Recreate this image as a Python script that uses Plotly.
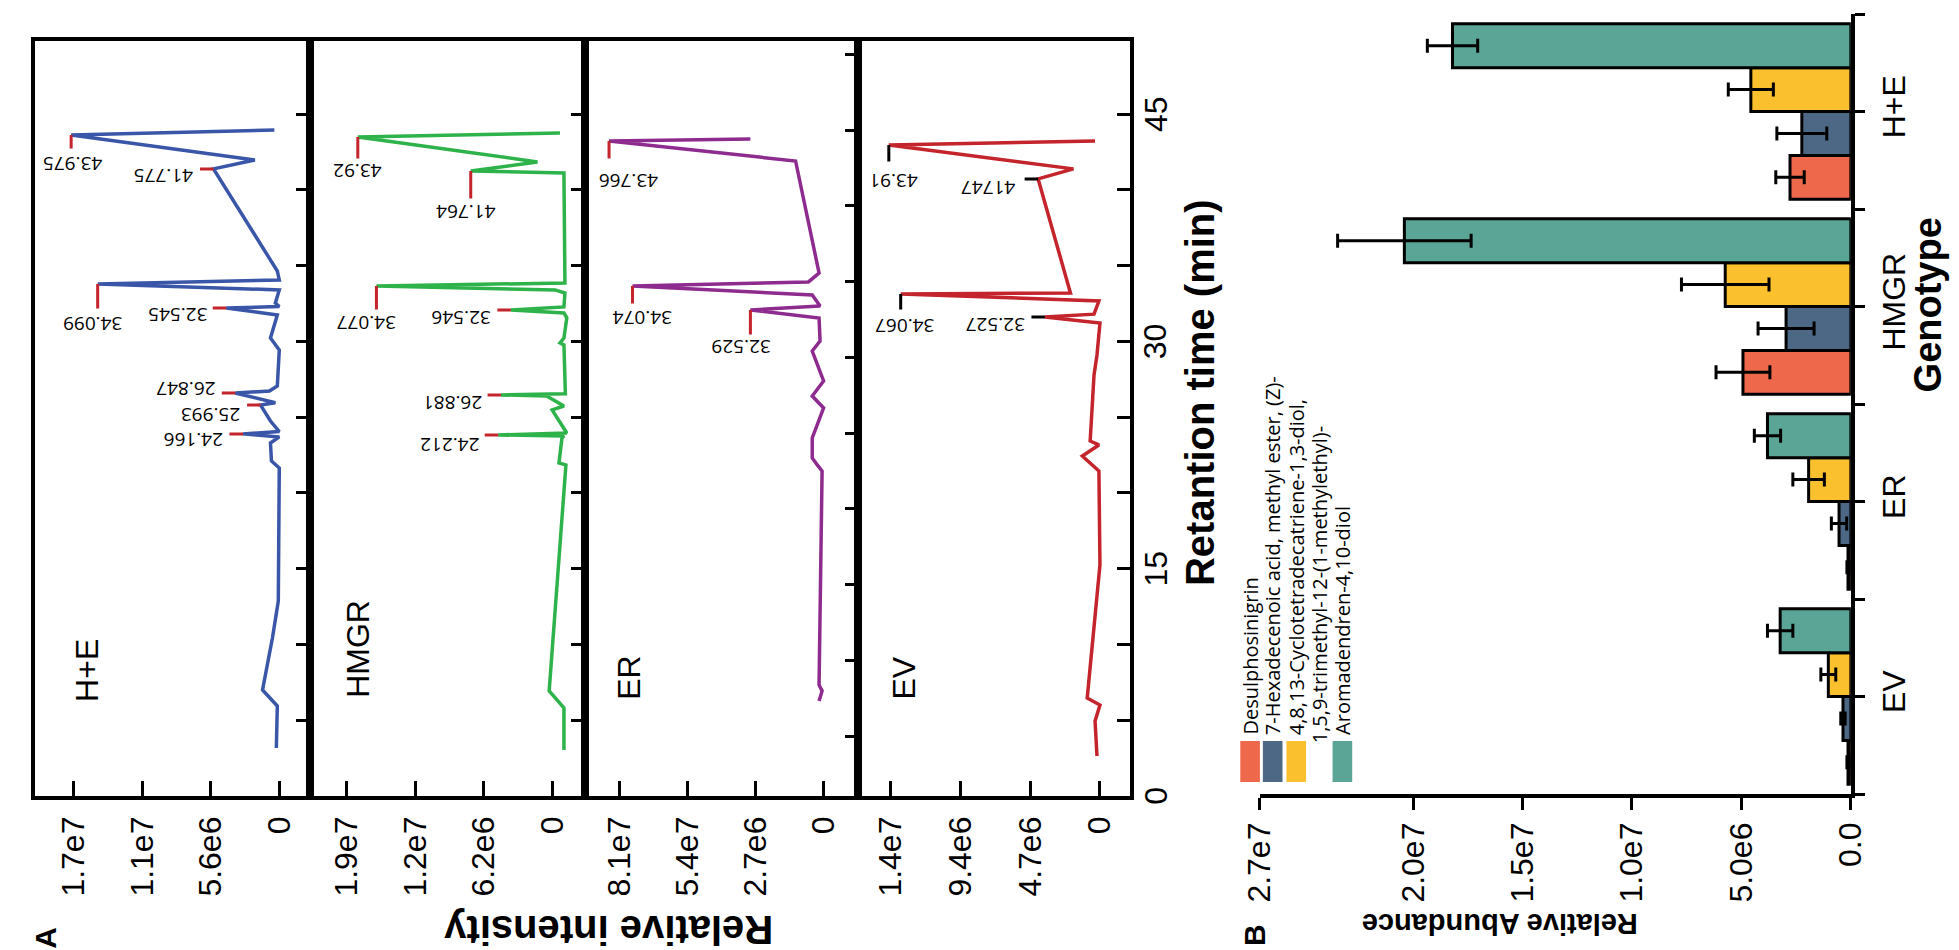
import plotly.graph_objects as go

W, H = 1959, 950

# ---------------- panel A: GC traces (time in min, intensity in 1e6) ----------------
HE_TIME = [3.17, 4.82, 5.94, 7.0, 10.43, 12.87, 21.65, 22.11, 23.3, 23.7, 23.9, 24.05,
           24.75, 25.8, 25.95, 26.6, 26.73, 27.06, 29.44, 30.23, 31.75, 32.2, 32.3, 32.54,
           33.4, 33.8, 34.06, 34.65, 41.39, 41.98, 43.63, 43.96]
HE_INT = [0.24, 0.16, 0.16, 1.37, 0.56, 0.08, 0.0, 0.64, 0.72, 0.0, 2.97, 0.0,
          0.72, 1.53, 0.32, 3.6, 0.8, 0.16, 0.0, 0.72, 0.16, 4.34, 0.0, 0.32,
          0.0, 14.86, 0.0, 0.16, 5.38, 2.0, 17.03, 0.4]

HMGR_TIME = [3.04, 5.81, 6.93, 19.67, 21.85, 21.98, 23.63, 23.76, 23.83, 23.96, 25.48,
             25.74, 26.4, 26.47, 26.55, 29.77, 29.9, 30.23, 31.55, 31.88, 32.08, 32.28,
             33.2, 33.4, 33.66, 33.86, 41.12, 41.25, 41.85, 43.5, 43.76]
HMGR_INT = [-1.07, -1.07, 0.27, -1.07, -1.25, -0.62, -0.89, -1.07, 4.89, -1.33, 0.0,
            -1.07, 0.5, 4.63, -1.2, -1.07, -0.71, -1.07, -1.33, -1.07, 3.74, -1.07,
            -1.16, -0.27, 15.93, -1.16, -1.07, 7.38, 1.33, 17.62, -0.71]

ER_TIME = [7.32, 7.98, 8.38, 22.5, 22.9, 23.36, 24.68, 26.66, 27.45, 28.44, 30.42,
           31.08, 32.6, 33.13, 33.39, 34.12, 34.71, 34.98, 35.57, 42.96, 44.28, 44.42]
ER_INT = [0.18, 0.06, 0.18, 0.06, 0.25, 0.45, 0.45, 0.0, 0.45, 0.0, 0.45,
          0.14, 0.18, 2.9, 0.14, 0.45, 7.57, 0.6, 0.18, 1.11, 8.5, 2.9]

EV_TIME = [2.64, 4.95, 6.0, 6.47, 15.25, 21.45, 22.44, 23.17, 23.43, 27.79, 29.11,
           31.22, 31.62, 31.8, 32.67, 33.14, 33.2, 40.73, 41.39, 42.97, 43.23]
EV_INT = [0.2, 0.33, 0.0, 0.86, 0.0, 0.07, 1.19, 0.07, 0.66, 0.4, 0.2,
          0.0, 3.71, 0.4, 0.07, 13.44, 1.99, 4.17, 1.79, 14.24, 0.33]

# peak labels: (text, index of the peak point in the trace)
HE_PEAKS = [("24.166", 10), ("25.993", 13), ("26.847", 15), ("32.545", 21),
            ("34.099", 25), ("41.775", 28), ("43.975", 30)]
HMGR_PEAKS = [("24.212", 8), ("26.881", 13), ("32.546", 20), ("34.077", 24),
              ("41.764", 27), ("43.92", 29)]
ER_PEAKS = [("32.529", 13), ("34.074", 16), ("43.766", 20)]
EV_PEAKS = [("32.527", 12), ("34.067", 15), ("41747", 17), ("43.91", 19)]

GENOTYPES_A = ["H+E", "HMGR", "ER", "EV"]
HE_TICKVALS, HE_TICKTEXT = [0, 5.6, 11.2, 16.8], ["0", "5.6e6", "1.1e7", "1.7e7"]
HMGR_TICKVALS, HMGR_TICKTEXT = [0, 6.2, 12.4, 18.6], ["0", "6.2e6", "1.2e7", "1.9e7"]
ER_TICKVALS, ER_TICKTEXT = [0, 2.7, 5.4, 8.1], ["0", "2.7e6", "5.4e7", "8.1e7"]
EV_TICKVALS, EV_TICKTEXT = [0, 4.7, 9.4, 14.1], ["0", "4.7e6", "9.4e6", "1.4e7"]
TIME_TICKVALS = [0, 5, 10, 15, 20, 25, 30, 35, 40, 45]
TIME_LABELS = [0, 15, 30, 45]

# ---------------- panel B: bars (relative abundance, 1e6) ----------------
GENOTYPES_B = ["EV", "ER", "HMGR", "H+E"]
COMPOUND_LINES = [["Desulphosinigrin"],
                  ["7-Hexadecenoic acid, methyl ester, (Z)-"],
                  ["4,8,13-Cyclotetradecatriene-1,3-diol,", "1,5,9-trimethyl-12-(1-methylethyl)-"],
                  ["Aromadendren-4,10-diol"]]
DESUL = [0.13, 0.13, 4.93, 2.78]
DESUL_ERR = [0.05, 0.05, 1.23, 0.65]
HEXA = [0.36, 0.54, 2.96, 2.24]
HEXA_ERR = [0.1, 0.35, 1.28, 1.14]
CYCLO = [1.03, 1.93, 5.74, 4.57]
CYCLO_ERR = [0.34, 0.72, 2.0, 1.03]
AROMA = [3.23, 3.81, 20.4, 18.2]
AROMA_ERR = [0.58, 0.6, 3.05, 1.15]
ABUND_TICKVALS = [0, 5, 10, 15, 20, 27]
ABUND_TICKTEXT = ["0.0", "5.0e6", "1.0e7", "1.5e7", "2.0e7", "2.7e7"]

AX_FONT = "Liberation Sans, Arial, sans-serif"
LBL_FONT = "Open Sans, sans-serif"
BAR_COLORS = ["#EE684C", "#4D6885", "#FBC02D", "#5AA596"]


def px(x):
    return x / W


def py(y):
    return 1 - y / H


fig = go.Figure()

strips = [
    (HE_TIME, HE_INT, HE_PEAKS, "#3A56A8", "#C4242B", HE_TICKVALS, HE_TICKTEXT, (8, 288), [20.0, -2.49], 0.0),
    (HMGR_TIME, HMGR_INT, HMGR_PEAKS, "#2DB34A", "#C4242B", HMGR_TICKVALS, HMGR_TICKTEXT, (288, 568), [21.98, -2.94], 0.0),
    (ER_TIME, ER_INT, ER_PEAKS, "#8E2B8E", "#C4242B", ER_TICKVALS, ER_TICKTEXT, (568, 847), [9.47, -1.38], 1.05),
    (EV_TIME, EV_INT, EV_PEAKS, "#C4242B", "black", EV_TICKVALS, EV_TICKTEXT, (847, 1124), [16.29, -2.05], 0.0),
]
# peak label styling: (stub direction, stub length px, text dx, text dy) ; dy is downward
label_style = [
    [("h", 15, -50, 6), ("h", 15, -50, 10), ("h", 15, -49, -4), ("h", 15, -48, 7),
     ("v", 26, -5, 40), ("h", 15, -50, 7), ("v", 15, 2, 29)],
    [("h", 15, -48, 10), ("h", 15, -48, 8), ("h", 15, -50, 8), ("v", 25, -10, 37),
     ("v", 29, -5, 41), ("v", 23, 0, 34)],
    [("v", 26, -9, 37), ("v", 19, 10, 32), ("v", 19, 20, 40)],
    [("h", 15, -50, 8), ("v", 17, 4, 32), ("h", 15, -50, 9), ("v", 18, 5, 36)],
]
label_pos = [(61, 662), (337, 641), (613, 670), (893, 670)]

annotations = []
for i, (t, inten, peaks, col, stub, tv, tt, (x0, x1), xr, t0) in enumerate(strips):
    n = i + 1
    xa, ya = f"x{n}", f"y{n}"
    fig.add_trace(go.Scatter(x=inten, y=t, mode="lines", line=dict(color=col, width=3.5),
                             xaxis=xa, yaxis=ya, showlegend=False, hoverinfo="skip"))
    fig.layout[f"xaxis{n}"] = dict(
        domain=[px(x0), px(x1)], range=xr, anchor=ya, tickmode="array", tickvals=tv, ticktext=tt,
        ticks="inside", ticklen=15, tickwidth=3, tickcolor="black", tickangle=-90,
        tickfont=dict(size=32, family=AX_FONT, color="black"), ticklabelstandoff=4,
        showline=True, linewidth=3.5, linecolor="black", mirror=True, showgrid=False, zeroline=False)
    fig.layout[f"yaxis{n}"] = dict(
        domain=[py(788), py(33)], range=[t0, t0 + 49.83], anchor=xa, side="right",
        ticks="inside", ticklen=14, tickwidth=3, tickcolor="black", tickmode="array",
        tickvals=TIME_TICKVALS + [50], showticklabels=False,
        showline=True, linewidth=3.5, linecolor="black", mirror=True, showgrid=False, zeroline=False)
    for (txt, k), (kind, ln, dx, dy) in zip(peaks, label_style[i]):
        # stub line from the peak
        annotations.append(dict(x=inten[k], y=t[k], xref=xa, yref=ya, text="", showarrow=True,
                                arrowhead=0, arrowwidth=3, arrowcolor=stub,
                                ax=0 if kind == "v" else -ln, ay=ln if kind == "v" else 0))
        annotations.append(dict(x=inten[k], y=t[k], xref=xa, yref=ya, text=txt, textangle=180,
                                showarrow=False, xshift=dx, yshift=-dy,
                                font=dict(size=19, family=LBL_FONT, color="black")))
    lx, ly = label_pos[i]
    annotations.append(dict(x=px(lx), y=py(ly), xref="paper", yref="paper", text=GENOTYPES_A[i],
                            textangle=-90, showarrow=False, xanchor="center", yanchor="middle",
                            font=dict(size=32, family=AX_FONT, color="black")))

# retention-time tick labels on the right of the EV strip
for v in TIME_LABELS:
    annotations.append(dict(x=px(1150), y=v, xref="paper", yref="y4", text=str(v), textangle=-90,
                            showarrow=False, xanchor="center", yanchor="middle",
                            font=dict(size=32, family=AX_FONT, color="black")))

# panel B bars
series = [(DESUL, DESUL_ERR), (HEXA, HEXA_ERR), (CYCLO, CYCLO_ERR), (AROMA, AROMA_ERR)]
for (vals, errs), col, lines in zip(series, BAR_COLORS, COMPOUND_LINES):
    fig.add_trace(go.Bar(y=GENOTYPES_B, x=vals, orientation="h", xaxis="x5", yaxis="y5",
                         name=" ".join(lines), showlegend=False,
                         marker=dict(color=col, line=dict(color="black", width=3)),
                         error_x=dict(type="data", array=errs, color="black", thickness=3, width=7)))

fig.layout["xaxis5"] = dict(
    domain=[px(1256), px(1858)], range=[27, 0], anchor="y5", tickmode="array",
    tickvals=ABUND_TICKVALS, ticktext=ABUND_TICKTEXT, ticks="outside", ticklen=12, tickwidth=3,
    tickcolor="black", tickangle=-90, tickfont=dict(size=32, family=AX_FONT, color="black"),
    ticklabelstandoff=0, showline=True, linewidth=3.5, linecolor="black", showgrid=False, zeroline=False)
fig.layout["yaxis5"] = dict(
    domain=[py(786), py(6)], type="category", categoryorder="array", categoryarray=GENOTYPES_B,
    range=[-0.5, 3.5], anchor="x5", side="right", tickmode="array",
    tickvals=[-0.5, 0, 0.5, 1, 1.5, 2, 2.5, 3, 3.5],
    ticktext=["", GENOTYPES_B[0], "", GENOTYPES_B[1], "", GENOTYPES_B[2], "", GENOTYPES_B[3], ""],
    ticks="outside", ticklen=10, tickwidth=3, tickcolor="black", tickangle=-90,
    tickfont=dict(size=32, family=AX_FONT, color="black"), ticklabelstandoff=2,
    showline=True, linewidth=3.5, linecolor="black", showgrid=False, zeroline=False)

# legend for panel B (rotated like the rest of the figure)
shapes = []
legend_x = [1246, 1269, 1293, 1317, 1340]
swatch_line = [0, 1, 2, 4]
line_idx = 0
for ci, lines in enumerate(COMPOUND_LINES):
    for j, ln in enumerate(lines):
        annotations.append(dict(x=px(legend_x[line_idx]), y=py(729 if j == 0 else 737),
                                xref="paper", yref="paper", text=ln, textangle=-90, showarrow=False,
                                xanchor="center", yanchor="bottom",
                                font=dict(size=20, family=LBL_FONT, color="black")))
        line_idx += 1
for ci, li in enumerate(swatch_line):
    cx = legend_x[li]
    shapes.append(dict(type="rect", xref="paper", yref="paper", x0=px(cx - 10), x1=px(cx + 10),
                       y0=py(774), y1=py(733), fillcolor=BAR_COLORS[ci], line=dict(width=0)))

# axis titles and panel letters
annotations += [
    dict(x=px(592), y=py(922), text="Relative intensity", textangle=180,
         font=dict(size=40, family=AX_FONT, color="black", weight="bold")),
    dict(x=px(1195), y=py(385), text="Retantion time (min)", textangle=-90,
         font=dict(size=40, family=AX_FONT, color="black", weight="bold")),
    dict(x=px(1500), y=py(916), text="Relative Abundance", textangle=180,
         font=dict(size=29, family=AX_FONT, color="black", weight="bold")),
    dict(x=px(1937), y=py(297), text="Genotype", textangle=-90,
         font=dict(size=38, family=AX_FONT, color="black", weight="bold")),
    dict(x=px(18), y=py(930), text="A", textangle=-90,
         font=dict(size=30, family=AX_FONT, color="black", weight="bold")),
    dict(x=px(1250), y=py(927), text="B", textangle=-90,
         font=dict(size=30, family=AX_FONT, color="black", weight="bold")),
]
for a in annotations[-6:]:
    a.update(xref="paper", yref="paper", showarrow=False, xanchor="center", yanchor="middle")

fig.update_layout(
    width=W, height=H, margin=dict(l=0, r=0, t=0, b=0),
    paper_bgcolor="white", plot_bgcolor="white",
    barmode="group", bargap=0.1, bargroupgap=0,
    annotations=annotations, shapes=shapes, showlegend=False,
)

fig.write_html("out.html")
